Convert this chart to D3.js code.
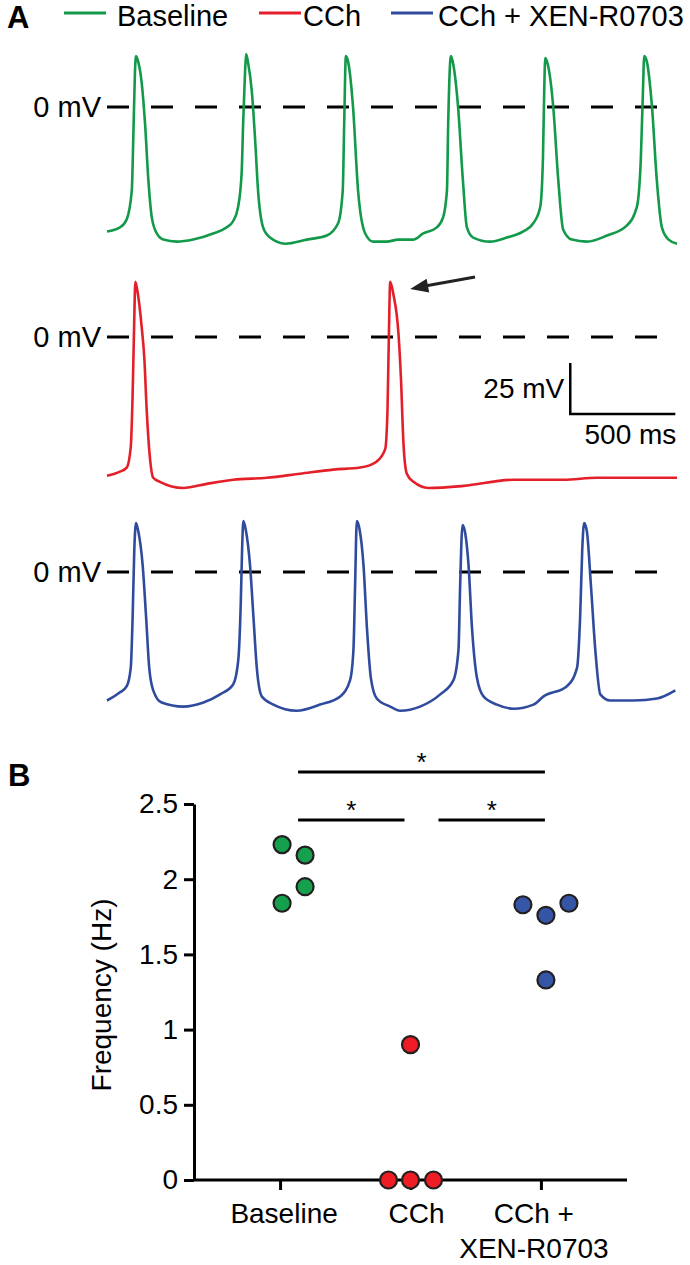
<!DOCTYPE html>
<html>
<head>
<meta charset="utf-8">
<script src="https://cdn.jsdelivr.net/npm/d3@7"></script>
<style>
  body { margin: 0; background: #fff; }
  text { font-family: "Liberation Sans", Arial, sans-serif; fill: #000; }
</style>
</head>
<body>
<div id="chart"></div>
<script>

// ---- data: membrane potential traces, [time ms, mV] ----
var baselineTrace = [[0,-61],[62,-59],[94,-55],[118,-41],[125,-16],[133,17],[138,25],[149,22],[165,12],[181,-8],
  [197,-36],[213,-54],[237,-62],[268,-65],[332,-66],[410,-65],[505,-62],[570,-59],[600,-56],[624,-49],
  [641,-32],[648,-8],[657,17],[662,26],[671,22],[689,8],[705,-16],[719,-41],[743,-59],[776,-64],
  [848,-67],[951,-65],[1046,-63],[1100,-57],[1122,-41],[1129,-8],[1137,25],[1148,22],[1171,0],[1195,-41],
  [1229,-62],[1267,-66],[1332,-66],[1386,-65],[1457,-65],[1505,-62],[1570,-59],[1600,-54],[1618,-41],[1624,-8],
  [1637,25],[1648,21],[1671,0],[1694,-36],[1713,-59],[1743,-64],[1824,-66],[1903,-64],[1981,-61],[2029,-57],
  [2062,-49],[2075,-25],[2081,8],[2086,24],[2100,20],[2124,0],[2148,-36],[2171,-60],[2213,-65],[2284,-66],
  [2380,-63],[2475,-58],[2522,-49],[2541,-25],[2551,8],[2557,25],[2570,22],[2594,0],[2617,-36],[2641,-59],
  [2673,-65],[2713,-67]];

var cchTrace = [[0,-68],[62,-66],[94,-64],[113,-54],[122,-28],[129,5],[135,27],[144,23],[165,5],[178,-11],
  [189,-36],[205,-60],[220,-69],[252,-71],[363,-74],[475,-72],[601,-70],[760,-69],[919,-67],[1078,-65],
  [1205,-64],[1284,-61],[1324,-55],[1335,-36],[1341,-3],[1348,27],[1363,21],[1387,2],[1399,-20],[1411,-52],
  [1427,-67],[1459,-71],[1530,-74],[1697,-73],[1935,-70],[2173,-70],[2332,-69],[2490,-69],[2713,-69]];

var xenTrace = [[0,-63],[62,-59],[94,-56],[113,-47],[122,-22],[130,11],[138,24],[149,20],[170,3],[186,-22],
  [201,-47],[220,-58],[260,-64],[363,-66],[459,-64],[538,-60],[601,-55],[625,-43],[637,-14],[643,11],
  [649,25],[660,21],[681,3],[697,-22],[713,-47],[737,-61],[792,-65],[903,-68],[1014,-65],[1110,-61],
  [1157,-53],[1173,-38],[1181,-6],[1189,25],[1202,21],[1221,3],[1237,-27],[1256,-52],[1284,-62],[1348,-66],
  [1395,-68],[1490,-66],[1586,-60],[1649,-53],[1673,-38],[1681,-6],[1692,23],[1705,19],[1721,3],[1737,-27],
  [1761,-52],[1792,-61],[1856,-65],[1935,-67],[2030,-65],[2078,-61],[2189,-56],[2237,-47],[2252,-22],[2262,11],
  [2271,24],[2284,20],[2303,-6],[2324,-38],[2348,-60],[2395,-63],[2506,-63],[2618,-62],[2705,-58]];

var traceNames = ["Baseline", "CCh", "CCh + XEN-R0703"];
var traceColors = ["#12994a", "#e3202a", "#2f4b9d"];

// scale bar values
var scaleBarMs = 500;
var scaleBarMv = 25;

// ---- data: panel B, firing frequency (Hz) ----
var categories = ["Baseline", "CCh", "CCh + XEN-R0703"];
var baselineHz = [2.23, 2.16, 1.95, 1.84];
var cchHz = [0.90, 0, 0, 0];
var xenHz = [1.83, 1.76, 1.84, 1.33];
var yTicks = [0, 0.5, 1, 1.5, 2, 2.5];
var comparisons = [["Baseline", "CCh + XEN-R0703"], ["Baseline", "CCh"], ["CCh", "CCh + XEN-R0703"]];

var svg = d3.select("#chart").append("svg")
  .attr("width", 690)
  .attr("height", 1265);

// ---------------- panel A ----------------
svg.append("text").attr("x", 7).attr("y", 28)
  .style("font-size", "31px").style("font-weight", "bold").text("A");

// legend
var legendX = [64, 259, 391];
var legendTextX = [117, 303, 438];
traceNames.forEach(function(name, i) {
  svg.append("line")
    .attr("x1", legendX[i]).attr("x2", legendX[i] + 42)
    .attr("y1", 13).attr("y2", 13)
    .attr("stroke", traceColors[i]).attr("stroke-width", 3);
  svg.append("text")
    .attr("x", legendTextX[i]).attr("y", 26)
    .style("font-size", "29px").text(name);
});

var xTime = d3.scaleLinear().domain([0, 2713]).range([107, 677]);
var pxPerMv = 2.04;
var zeroY = [107, 337, 572];
var traces = [baselineTrace, cchTrace, xenTrace];

traces.forEach(function(trace, i) {
  var yMv = d3.scaleLinear().domain([0, 1]).range([zeroY[i], zeroY[i] - pxPerMv]);

  // 0 mV reference
  svg.append("line")
    .attr("x1", xTime(0)).attr("x2", xTime(2620))
    .attr("y1", yMv(0)).attr("y2", yMv(0))
    .attr("stroke", "#000").attr("stroke-width", 3)
    .attr("stroke-dasharray", "22,22");
  svg.append("text")
    .attr("x", 101).attr("y", yMv(0) + 10)
    .attr("text-anchor", "end")
    .style("font-size", "29px").text("0 mV");

  var line = d3.line()
    .x(d => xTime(d[0]))
    .y(d => yMv(d[1]))
    .curve(d3.curveMonotoneX);

  svg.append("path")
    .datum(trace)
    .attr("d", line)
    .attr("fill", "none")
    .attr("stroke", traceColors[i])
    .attr("stroke-width", 2.6)
    .attr("stroke-linejoin", "round");

  if (i === 1) {
    // scale bar
    var t0 = 2205, v0 = -37.7;
    svg.append("path")
      .attr("d", "M" + xTime(t0) + "," + yMv(v0 + scaleBarMv) +
                 "V" + yMv(v0) + "H" + xTime(t0 + scaleBarMs))
      .attr("fill", "none").attr("stroke", "#000").attr("stroke-width", 2.5);
    svg.append("text")
      .attr("x", xTime(t0) - 6).attr("y", yMv(v0) - 16)
      .attr("text-anchor", "end")
      .style("font-size", "28px").text(scaleBarMv + " mV");
    svg.append("text")
      .attr("x", xTime(t0 + scaleBarMs) + 1).attr("y", yMv(v0) + 30)
      .attr("text-anchor", "end")
      .style("font-size", "28px").text(scaleBarMs + " ms");

    // arrow at second action potential
    var tipX = xTime(1348) + 20, tipY = yMv(27) + 7;
    svg.append("line")
      .attr("x1", 475).attr("y1", 277).attr("x2", tipX + 12).attr("y2", tipY - 2.5)
      .attr("stroke", "#222").attr("stroke-width", 3);
    var ang = Math.atan2(277 - tipY, 475 - tipX);
    var hl = 18, hw = 7;
    var bx = tipX + hl * Math.cos(ang), by = tipY + hl * Math.sin(ang);
    svg.append("path")
      .attr("d", "M" + tipX + "," + tipY +
        "L" + (bx - hw * Math.sin(ang)) + "," + (by + hw * Math.cos(ang)) +
        "L" + (bx + hw * Math.sin(ang)) + "," + (by - hw * Math.cos(ang)) + "Z")
      .attr("fill", "#222");
  }
});

// ---------------- panel B ----------------
svg.append("text").attr("x", 8).attr("y", 786)
  .style("font-size", "31px").style("font-weight", "bold").text("B");

var y = d3.scaleLinear().domain([0, 2.5]).range([1180, 804]);
var x = d3.scalePoint().domain(categories).range([194, 627]).padding(0.66);

var yAxis = svg.append("g")
  .attr("transform", "translate(194,0)")
  .call(d3.axisLeft(y).tickValues(yTicks).tickSize(10).tickSizeOuter(0).tickPadding(6)
    .tickFormat(d => String(d)));

var xAxis = svg.append("g")
  .attr("transform", "translate(0,1180)")
  .call(d3.axisBottom(x).tickSize(10).tickSizeOuter(0).tickFormat(""));

[yAxis, xAxis].forEach(function(ax) {
  ax.select(".domain").attr("stroke", "#000").attr("stroke-width", 3);
  ax.selectAll(".tick line").attr("stroke", "#000").attr("stroke-width", 3);
  ax.selectAll(".tick text").style("font-size", "28px")
    .style("font-family", "'Liberation Sans', Arial, sans-serif").attr("fill", "#000");
});
xAxis.select(".domain").attr("d", "M194,0H627");

// category labels
var catLines = [["Baseline"], ["CCh"], ["CCh +", "XEN-R0703"]];
var catShift = [4, 6, -7];
categories.forEach(function(c, i) {
  var t = svg.append("text")
    .attr("y", 1223)
    .attr("text-anchor", "middle")
    .style("font-size", "28px");
  catLines[i].forEach(function(s, j) {
    t.append("tspan").attr("x", x(c) + catShift[i]).attr("dy", j === 0 ? 0 : 35).text(s);
  });
});

svg.append("text")
  .attr("transform", "translate(111,995) rotate(-90)")
  .attr("text-anchor", "middle")
  .style("font-size", "28px")
  .text("Frequency (Hz)");

// significance bars
var barY = [772, 820, 820];
comparisons.forEach(function(pair, i) {
  var x1 = x(pair[0]) + 18, x2 = x(pair[1]) + 4;
  if (i === 1) x2 = x(pair[1]) - 6;
  if (i === 2) x1 = x(pair[0]) + 28;
  svg.append("line")
    .attr("x1", x1).attr("x2", x2).attr("y1", barY[i]).attr("y2", barY[i])
    .attr("stroke", "#000").attr("stroke-width", 3);
  svg.append("text")
    .attr("x", (x1 + x2) / 2).attr("y", barY[i] - 1)
    .attr("text-anchor", "middle")
    .style("font-size", "26px").text("*");
});

// points
var jitter = [[2, 25, 25, 2], [0, -22, 0, 23], [-18, 5, 28, 5]];
var dotColors = ["#14a04c", "#ee1c25", "#3555a6"];
[baselineHz, cchHz, xenHz].forEach(function(vals, i) {
  svg.append("g").selectAll("circle")
    .data(vals)
    .enter()
    .append("circle")
    .attr("cx", (d, j) => x(categories[i]) + jitter[i][j])
    .attr("cy", d => y(d))
    .attr("r", 8.5)
    .attr("fill", dotColors[i])
    .attr("stroke", "#231f20")
    .attr("stroke-width", 2.2);
});

</script>
</body>
</html>
